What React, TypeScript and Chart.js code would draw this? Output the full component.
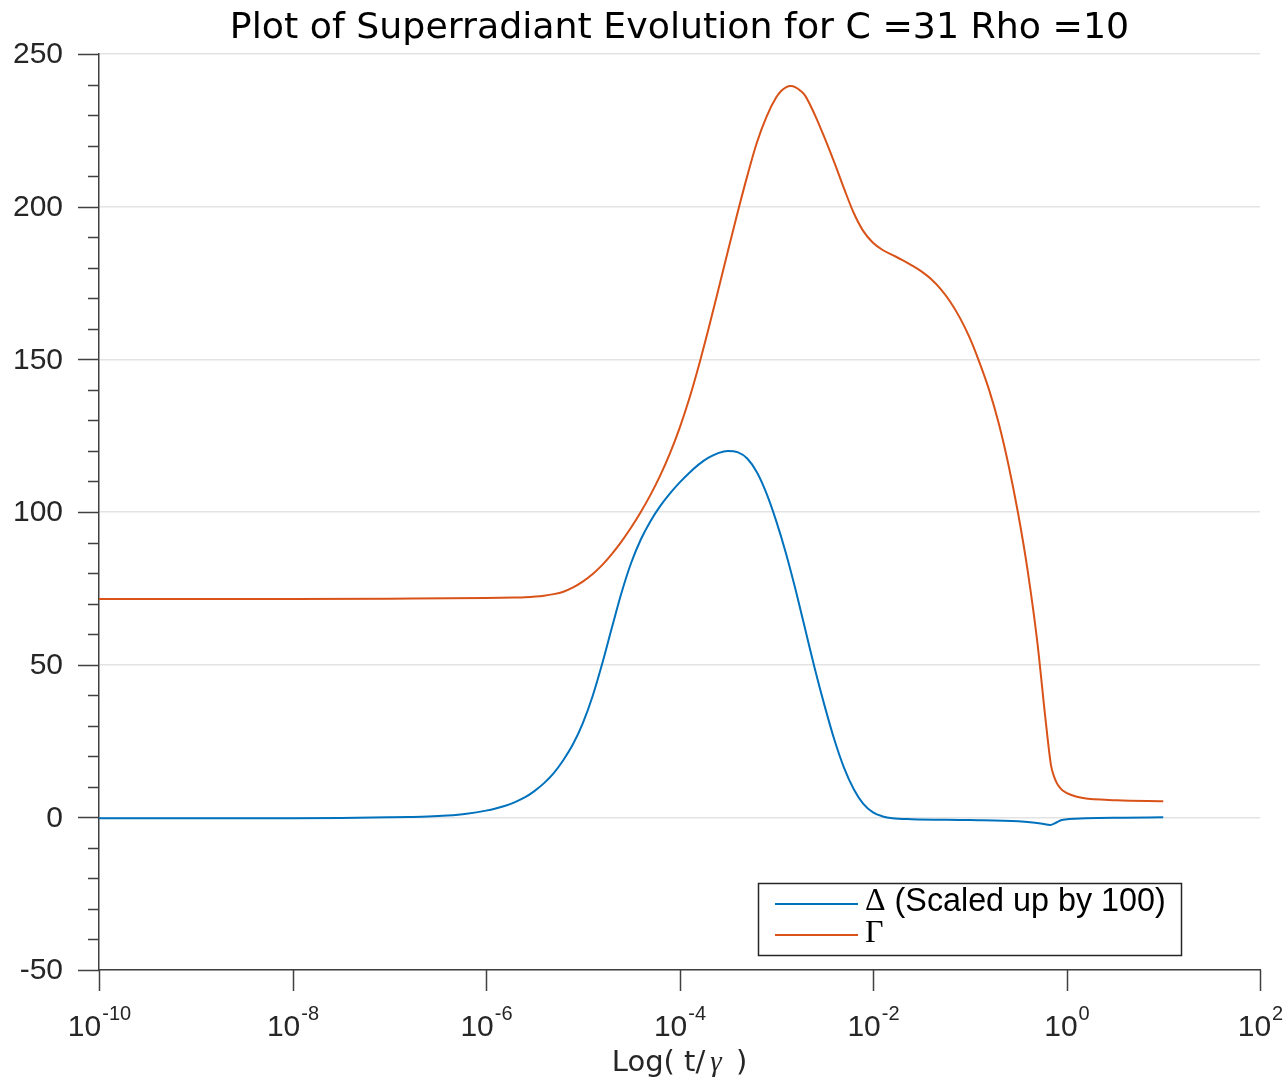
import React, { useEffect, useRef } from "react";
import { Chart, registerables } from "chart.js";

Chart.register(...registerables);

// ---------- data ----------
const titleText = "Plot of Superradiant Evolution for C =31 Rho =10";
const deltaLabel = "(Scaled up by 100)";
const xTickExponents = [-10, -8, -6, -4, -2, 0, 2];
const yMajorTicks = [-50, 0, 50, 100, 150, 200, 250];
const yMinorTicks = [-40, -30, -20, -10, 10, 20, 30, 40, 60, 70, 80, 90, 110, 120, 130, 140, 160, 170, 180, 190, 210, 220, 230, 240];

// Δ (scaled up by 100): log10(t/γ) exponents and values
const deltaLogT = [-10, -9, -8, -7.5, -7, -6.8, -6.6, -6.4, -6.2, -6.0, -5.9, -5.8, -5.7, -5.6, -5.5, -5.4, -5.3, -5.2, -5.1, -5.0, -4.9, -4.8, -4.7, -4.6, -4.5, -4.4, -4.3, -4.2, -4.1, -4.0, -3.9, -3.8, -3.7, -3.6, -3.5, -3.4, -3.3, -3.2, -3.1, -3.0, -2.9, -2.8, -2.7, -2.6, -2.5, -2.4, -2.3, -2.2, -2.1, -2.0, -1.9, -1.8, -1.6, -1.0, -0.5, -0.35, -0.25, -0.17, -0.1, -0.05, 0.2, 0.6, 1.0];
const deltaValues = [-0.3, -0.3, -0.3, -0.2, 0.0, 0.1, 0.25, 0.6, 1.2, 2.2, 2.9, 3.8, 5.0, 6.5, 8.6, 11.2, 14.5, 18.8, 24.0, 30.8, 39.5, 50.2, 62.0, 73.5, 83.3, 91.0, 97.0, 101.9, 106.0, 109.6, 112.8, 115.6, 117.8, 119.3, 120.0, 119.6, 117.5, 113, 106, 97, 86.5, 74.5, 61.5, 48.5, 36.5, 25.5, 16.3, 9.3, 4.4, 1.6, 0.3, -0.3, -0.6, -0.9, -1.3, -1.7, -2.1, -2.5, -1.6, -0.9, -0.3, -0.1, 0];

// Γ
const gammaLogT = [-10, -9, -8, -7, -6, -5.7, -5.6, -5.4, -5.3, -5.2, -5.1, -5.0, -4.9, -4.8, -4.7, -4.6, -4.5, -4.4, -4.3, -4.2, -4.1, -4.0, -3.9, -3.8, -3.7, -3.6, -3.5, -3.4, -3.3, -3.2, -3.1, -3.0, -2.95, -2.9, -2.85, -2.8, -2.75, -2.7, -2.6, -2.5, -2.4, -2.3, -2.2, -2.1, -2.0, -1.9, -1.8, -1.7, -1.6, -1.5, -1.4, -1.3, -1.2, -1.1, -1.0, -0.9, -0.8, -0.7, -0.6, -0.5, -0.4, -0.3, -0.22, -0.16, -0.13, -0.1, -0.07, -0.04, 0.05, 0.17, 0.52, 1.0];
const gammaValues = [71.5, 71.5, 71.5, 71.6, 71.8, 72.0, 72.1, 72.6, 73.1, 73.9, 75.3, 77.2, 79.6, 82.6, 86.2, 90.3, 94.9, 100, 105.6, 111.9, 119.1, 127.4, 137, 148, 160, 172.6, 185.4, 198, 210, 221, 229.5, 235.8, 237.9, 239.1, 239.5, 239.1, 238, 236.3, 230, 222.5, 214.5, 206, 198, 192, 188.2, 185.8, 184.2, 182.6, 180.8, 178.8, 176.3, 173, 168.8, 163.5, 157, 149, 140, 129, 115.5, 99.5, 80.5, 57, 33, 17, 13.5, 11.2, 9.8, 8.8, 7.3, 6.3, 5.6, 5.3];

const BLUE = "#0072BD";
const ORANGE = "#D95319";
const AXIS = "#404040";
const TEXT = "#262626";
const SANS = "'Liberation Sans', Arial, sans-serif";
const SERIF = "'Liberation Serif', 'Times New Roman', serif";
const DEJAVU = "'DejaVu Sans', sans-serif";

const toPoints = (logs: number[], vals: number[]) =>
  logs.map((l, i) => ({ x: Math.pow(10, l), y: vals[i] }));

const decorPlugin = {
  id: "decor",
  afterDraw(chart: any) {
    const ctx: CanvasRenderingContext2D = chart.ctx;
    const xs = chart.scales.x;
    const ys = chart.scales.y;
    const a = chart.chartArea;
    ctx.save();

    // y ticks
    ctx.strokeStyle = AXIS;
    ctx.lineWidth = 1.5;
    ctx.beginPath();
    yMajorTicks.forEach((v) => {
      const y = Math.round(ys.getPixelForValue(v)) + 0.5;
      ctx.moveTo(a.left - 21, y);
      ctx.lineTo(a.left, y);
    });
    yMinorTicks.forEach((v) => {
      const y = Math.round(ys.getPixelForValue(v)) + 0.5;
      ctx.moveTo(a.left - 11, y);
      ctx.lineTo(a.left, y);
    });
    // x ticks
    xTickExponents.forEach((e) => {
      const x = Math.round(xs.getPixelForValue(Math.pow(10, e))) + 0.5;
      ctx.moveTo(x, a.bottom);
      ctx.lineTo(x, a.bottom + 21);
    });
    ctx.stroke();

    // y labels
    ctx.fillStyle = TEXT;
    ctx.font = `30px ${SANS}`;
    ctx.textAlign = "right";
    ctx.textBaseline = "middle";
    yMajorTicks.forEach((v) => {
      ctx.fillText(String(v), a.left - 36, ys.getPixelForValue(v) + 1);
    });

    // x labels 10^e
    ctx.textAlign = "left";
    ctx.textBaseline = "alphabetic";
    xTickExponents.forEach((e) => {
      const x = xs.getPixelForValue(Math.pow(10, e));
      ctx.font = `30px ${SANS}`;
      const w1 = ctx.measureText("10").width;
      ctx.font = `20px ${SANS}`;
      const sup = String(e);
      const w2 = ctx.measureText(sup).width;
      const start = x - (w1 + w2) / 2;
      ctx.font = `30px ${SANS}`;
      ctx.fillText("10", start, a.bottom + 66);
      ctx.font = `20px ${SANS}`;
      ctx.fillText(sup, start + w1 + 1, a.bottom + 50);
    });

    // x axis title
    {
      const p1 = "Log( t/";
      const p2 = "\u03B3";
      const p3 = " )";
      ctx.font = `29px ${DEJAVU}`;
      const w1 = ctx.measureText(p1).width;
      const w3 = ctx.measureText(p3).width;
      ctx.font = `italic 29px ${SERIF}`;
      const w2 = ctx.measureText(p2).width;
      const gap = 5;
      const total = w1 + w2 + w3 + 2 * gap;
      const cx = (a.left + a.right) / 2;
      let x = cx - total / 2;
      const by = a.bottom + 101;
      ctx.font = `29px ${DEJAVU}`;
      ctx.fillText(p1, x, by);
      x += w1 + gap;
      ctx.font = `italic 29px ${SERIF}`;
      ctx.fillText(p2, x, by);
      x += w2 + gap;
      ctx.font = `29px ${DEJAVU}`;
      ctx.fillText(p3, x, by);
    }

    // title
    ctx.fillStyle = "#000";
    ctx.font = `36.3px ${DEJAVU}`;
    ctx.textAlign = "center";
    ctx.fillText(titleText, (a.left + a.right) / 2, 38);

    // legend
    const lx = 758.5, ly = 883.5, lw = 423, lh = 72;
    ctx.fillStyle = "#fff";
    ctx.fillRect(lx, ly, lw, lh);
    ctx.strokeStyle = "#262626";
    ctx.lineWidth = 1.5;
    ctx.strokeRect(lx, ly, lw, lh);
    const rows = [
      { color: chart.data.datasets[0].borderColor, y: 904 },
      { color: chart.data.datasets[1].borderColor, y: 935 },
    ];
    rows.forEach((r) => {
      ctx.strokeStyle = r.color;
      ctx.lineWidth = 2;
      ctx.beginPath();
      ctx.moveTo(775, r.y);
      ctx.lineTo(858, r.y);
      ctx.stroke();
    });
    ctx.fillStyle = "#000";
    ctx.textAlign = "left";
    ctx.textBaseline = "middle";
    ctx.font = `32px ${SERIF}`;
    ctx.fillText("\u0394", 865, 902);
    const wd = ctx.measureText("\u0394").width;
    ctx.fillText("\u0393", 865, 934);
    ctx.font = `32.3px ${SANS}`;
    ctx.fillText(deltaLabel, 865 + wd + 9, 902);

    ctx.restore();
  },
};

export default function App() {
  const ref = useRef<HTMLCanvasElement | null>(null);
  useEffect(() => {
    if (!ref.current) return;
    const chart = new Chart(ref.current, {
      type: "line",
      data: {
        datasets: [
          {
            label: "\u0394 " + deltaLabel,
            data: toPoints(deltaLogT, deltaValues),
            borderColor: BLUE,
            borderWidth: 2,
            pointRadius: 0,
            cubicInterpolationMode: "monotone",
            fill: false,
          },
          {
            label: "\u0393",
            data: toPoints(gammaLogT, gammaValues),
            borderColor: ORANGE,
            borderWidth: 2,
            pointRadius: 0,
            cubicInterpolationMode: "monotone",
            fill: false,
          },
        ],
      },
      options: {
        animation: false,
        responsive: false,
        devicePixelRatio: 1,
        layout: { padding: { top: 54, right: 28, left: 0, bottom: 0 } },
        plugins: {
          legend: { display: false },
          title: { display: false },
          tooltip: { enabled: false },
        },
        scales: {
          x: {
            type: "logarithmic",
            min: 1e-10,
            max: 100,
            grid: { display: false, drawTicks: false },
            border: { display: true, color: AXIS, width: 1.5 },
            ticks: { display: false },
            afterFit: (s: any) => {
              s.height = 110;
            },
          },
          y: {
            type: "linear",
            min: -50,
            max: 250,
            grid: { color: "#e3e3e3", lineWidth: 1.5, drawTicks: false },
            border: { display: true, color: AXIS, width: 1.5 },
            ticks: { display: false, stepSize: 50 },
            afterFit: (s: any) => {
              s.width = 99;
            },
          },
        },
      } as any,
      plugins: [decorPlugin],
    });
    return () => chart.destroy();
  }, []);
  return (
    <div style={{ position: "absolute", left: 0, top: 0, width: 1288, height: 1080, background: "#fff" }}>
      <canvas ref={ref} width={1288} height={1080} style={{ width: 1288, height: 1080 }} />
    </div>
  );
}
